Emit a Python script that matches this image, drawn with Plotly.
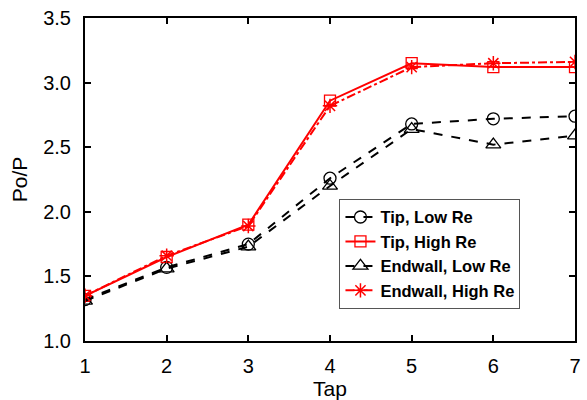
import plotly.graph_objects as go

taps = [1, 2, 3, 4, 5, 6, 7]
tip_low = [1.32, 1.57, 1.75, 2.26, 2.68, 2.72, 2.74]
tip_high = [1.35, 1.65, 1.90, 2.86, 3.15, 3.12, 3.12]
end_low = [1.31, 1.56, 1.73, 2.20, 2.64, 2.52, 2.59]
end_high = [1.35, 1.66, 1.89, 2.82, 3.12, 3.15, 3.16]

FONT = "Liberation Sans, Arial, sans-serif"

fig = go.Figure()
fig.add_trace(go.Scatter(x=taps, y=tip_low, name="Tip, Low Re", mode="lines+markers",
                         line=dict(color="black", width=2, dash="dash"),
                         marker=dict(symbol="circle-open", size=12, color="black", line=dict(width=1.3))))
fig.add_trace(go.Scatter(x=taps, y=tip_high, name="Tip, High Re", mode="lines+markers",
                         line=dict(color="red", width=2),
                         marker=dict(symbol="square-open", size=11, color="red", line=dict(width=1.3))))
fig.add_trace(go.Scatter(x=taps, y=end_low, name="Endwall, Low Re", mode="lines+markers",
                         line=dict(color="black", width=2, dash="dash"),
                         marker=dict(symbol="triangle-up-open", size=13, color="black", line=dict(width=1.3))))
fig.add_trace(go.Scatter(x=taps, y=end_high, name="Endwall, High Re", mode="lines+markers",
                         line=dict(color="red", width=2, dash="dashdot"),
                         marker=dict(symbol="asterisk-open", size=12, color="red", line=dict(width=1.5))))

axis_common = dict(showline=True, linecolor="black", linewidth=2, mirror="ticks",
                   ticks="inside", ticklen=6, tickwidth=1.5, tickcolor="black",
                   showgrid=False, zeroline=False,
                   tickfont=dict(family=FONT, size=20, color="black"))

fig.update_xaxes(range=[1, 7], dtick=1, tick0=1, ticklabelstandoff=6,
                 title=dict(text="Tap", font=dict(family=FONT, size=21, color="black"), standoff=2),
                 **axis_common)
fig.update_yaxes(range=[1.0, 3.5], dtick=0.5, tick0=1.0, tickformat=".1f", ticklabelstandoff=8,
                 title=dict(text="Po/P", font=dict(family=FONT, size=21, color="black"), standoff=10),
                 **axis_common)

fig.update_layout(
    width=587, height=400,
    margin=dict(l=85, r=6, t=18, b=56),
    plot_bgcolor="white", paper_bgcolor="white",
    legend=dict(x=0.704, y=0.27, xanchor="center", yanchor="middle",
                bgcolor="white", bordercolor="#555", borderwidth=1,
                font=dict(family=FONT, size=16.5, color="black", weight="bold"),
                itemwidth=30, tracegroupgap=0),
)

fig.write_html("out.html")
